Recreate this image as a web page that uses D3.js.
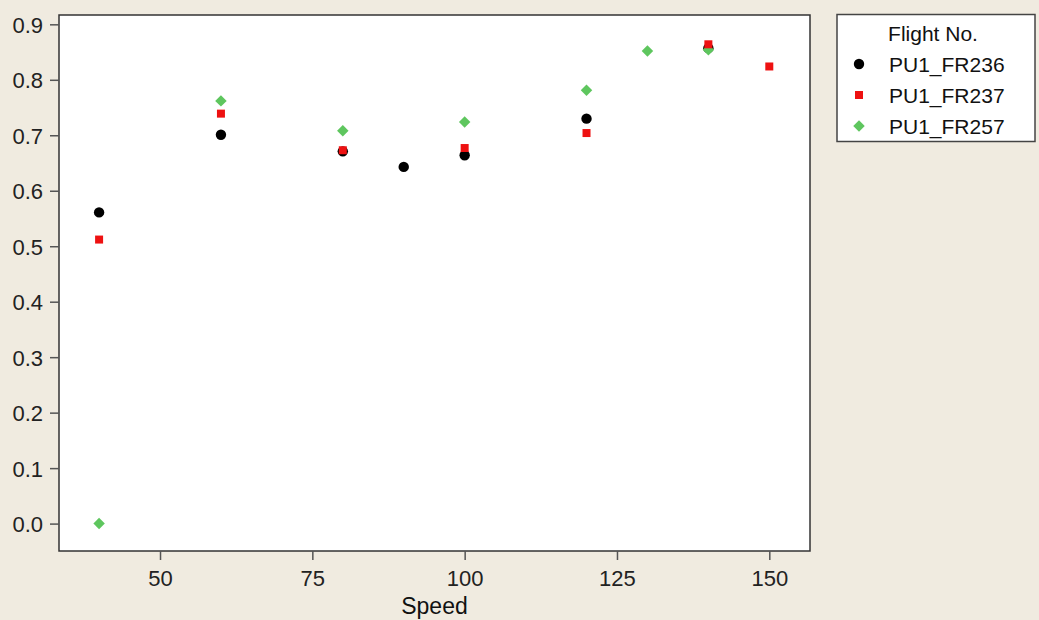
<!DOCTYPE html>
<html><head><meta charset="utf-8">
<script src="https://cdn.jsdelivr.net/npm/d3@7"></script>
<style>
html,body{margin:0;padding:0;background:#f0ebe0;}
svg{display:block;}
text{font-family:"Liberation Sans",Arial,sans-serif;}
</style></head>
<body>
<svg id="chart" width="1039" height="620"></svg>
<script>
// Data
const speeds236 = [40, 60, 80, 90, 100, 120, 140];
const values236 = [0.561, 0.701, 0.671, 0.643, 0.664, 0.730, 0.857];
const speeds237 = [40, 60, 80, 100, 120, 140, 150];
const values237 = [0.512, 0.739, 0.673, 0.677, 0.704, 0.864, 0.824];
const speeds257 = [40, 60, 80, 100, 120, 130, 140];
const values257 = [0.0, 0.762, 0.708, 0.724, 0.781, 0.852, 0.854];
const seriesNames = ["PU1_FR236", "PU1_FR237", "PU1_FR257"];
const xTicks = [50, 75, 100, 125, 150];
const yTicks = [0.0, 0.1, 0.2, 0.3, 0.4, 0.5, 0.6, 0.7, 0.8, 0.9];

const svg = d3.select("#chart");
const L = 59, T = 15, R = 810, B = 551;
const x = d3.scaleLinear().domain([33.42, 156.68]).range([L, R]);
const y = d3.scaleLinear().domain([-0.0494, 0.9168]).range([B, T]);

svg.append("rect").attr("x", L).attr("y", T).attr("width", R - L).attr("height", B - T)
  .attr("fill", "#fff").attr("stroke", "#333").attr("stroke-width", 1.5);

// axes
const yAxis = d3.axisLeft(y).tickValues(yTicks).tickFormat(d3.format(".1f")).tickSize(9).tickPadding(7);
const gy = svg.append("g").attr("transform", `translate(${L},0)`).call(yAxis);
const xAxis = d3.axisBottom(x).tickValues(xTicks).tickFormat(d3.format("d")).tickSize(9).tickPadding(10);
const gx = svg.append("g").attr("transform", `translate(0,${B})`).call(xAxis);
[gy, gx].forEach(g => {
  g.select(".domain").remove();
  g.selectAll(".tick line").attr("stroke", "#555").attr("stroke-width", 1.5);
  g.selectAll(".tick text").attr("fill", "#222").style("font-size", "22px")
   .style("font-family", "'Liberation Sans',Arial,sans-serif");
});
gy.selectAll(".tick text").attr("dy", "0.36em");

svg.append("text").attr("x", (L + R) / 2).attr("y", 614).attr("text-anchor", "middle")
  .attr("fill", "#111").style("font-size", "23px").text("Speed");

// markers
const colors = ["#000000", "#ee1111", "#5ec65e"];
const sym = [d3.symbolCircle, d3.symbolSquare, d3.symbolDiamond];
const sizes = [85, 64, 38];
const extra = ["", "", " scale(1.73,1)"];
function drawSeries(xs, vs, i, g) {
  g.selectAll(null).data(xs.map((d, k) => [d, vs[k]])).enter().append("path")
    .attr("d", d3.symbol().type(sym[i]).size(sizes[i]))
    .attr("transform", d => `translate(${x(d[0])},${y(d[1])})` + extra[i])
    .attr("fill", colors[i]);
}
const gm = svg.append("g");
drawSeries(speeds236, values236, 0, gm);
drawSeries(speeds257, values257, 2, gm);
drawSeries(speeds237, values237, 1, gm);

// legend
const lg = svg.append("g");
lg.append("rect").attr("x", 837).attr("y", 14.5).attr("width", 198).attr("height", 127)
  .attr("fill", "#fff").attr("stroke", "#444").attr("stroke-width", 1.5);
lg.append("text").attr("x", 933).attr("y", 41).attr("text-anchor", "middle")
  .attr("fill", "#111").style("font-size", "21px").text("Flight No.");
seriesNames.forEach((n, i) => {
  const cy = 64 + i * 31;
  lg.append("path").attr("d", d3.symbol().type(sym[i]).size(sizes[i]))
    .attr("transform", `translate(859,${cy})` + extra[i]).attr("fill", colors[i]);
  lg.append("text").attr("x", 889).attr("y", cy + 8).attr("fill", "#111")
    .style("font-size", "21px").text(n);
});
</script>
</body></html>
